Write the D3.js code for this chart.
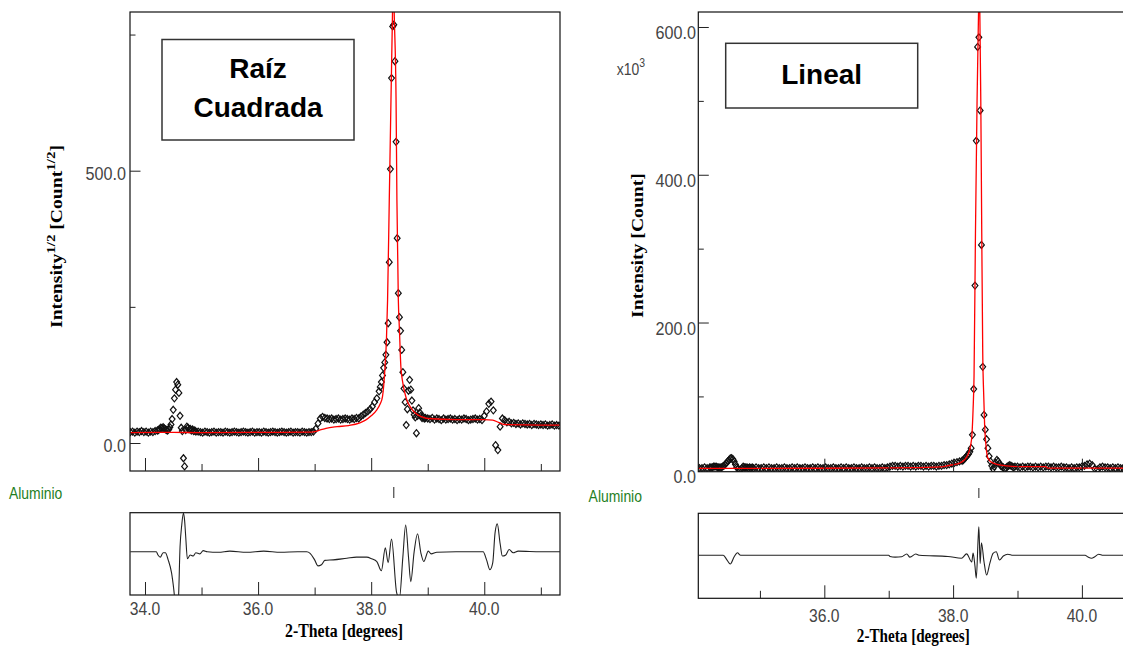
<!DOCTYPE html>
<html><head><meta charset="utf-8">
<script src="https://cdn.jsdelivr.net/npm/d3@7"></script>
<style>body{margin:0;background:#fff;} svg{display:block;}</style>
</head><body>
<svg id="chart" width="1123" height="646"></svg>
<script>
// ---------------- DATA ----------------
// 2-theta scan positions (degrees)
const twoTheta = [
 33.74,33.78,33.82,33.86,33.90,33.94,33.98,34.02,34.06,34.10,34.14,34.18,34.22,
 34.24,34.26,34.28,34.30,34.32,34.34,34.36,34.38,34.40,34.42,34.44,34.46,34.48,34.50,34.52,34.54,34.56,34.58,34.60,34.62,34.64,34.66,34.68,34.70,34.72,34.74,34.76,34.78,34.80,34.82,34.84,34.86,34.88,34.90,
 34.94,34.98,35.02,35.06,35.10,35.14,35.18,35.22,35.26,35.30,35.34,35.38,35.42,35.46,35.50,35.54,35.58,35.62,35.66,35.70,
 35.74,35.78,35.82,35.86,35.90,35.94,35.98,36.02,36.06,36.10,36.14,36.18,36.22,36.26,36.30,36.34,36.38,36.42,36.46,36.50,
 36.54,36.58,36.62,36.66,36.70,36.74,36.78,36.82,36.86,36.90,36.94,36.98,37.02,37.06,37.10,37.14,37.18,37.22,37.26,37.30,
 37.34,37.38,37.42,37.46,37.50,37.54,37.58,37.62,37.66,37.70,37.74,37.78,37.82,37.86,37.90,37.94,37.98,38.02,38.06,38.10,38.14,
 38.16,38.18,38.20,38.22,38.24,38.26,38.28,38.30,38.32,38.34,38.36,38.38,38.40,38.42,38.44,38.46,38.48,38.50,38.52,38.54,
 38.56,38.58,38.60,38.62,38.64,38.66,38.68,38.70,38.72,38.74,38.76,38.78,38.80,38.82,38.84,38.86,38.88,38.90,38.92,38.94,38.96,
 39.00,39.04,39.08,39.12,39.16,39.20,39.24,39.28,39.32,39.36,39.40,39.44,39.48,39.52,39.56,39.60,39.64,39.68,39.72,39.76,
 39.80,39.84,39.88,39.92,39.96,40.00,40.04,40.08,40.12,40.16,40.20,40.24,40.28,40.32,40.36,40.40,40.44,40.48,40.52,40.56,
 40.60,40.64,40.68,40.72,40.76,40.80,40.84,40.88,40.92,40.96,41.00,41.04,41.08,41.12,41.16,41.20,41.24,41.28,41.32
];
// observed, square-root scale [Count^1/2]
const sqrtObserved = [
 20,21,19,21,20,22,20,21,19,21,20,22,23,
 24,26,28,27,29,27,25,24,23,25,29,34,44,61,82,98,112,107,92,50,28,22,-28,-43,24,30,28,25,26,23,25,22,23,21,
 21,20,19,21,20,19,20,21,19,20, 20,19,21,20,19,20,21,20,19,20, 21,20,19,20,21,19,20,20,19,21,
 20,19,20,21,20,19,20,21,20,19, 20,21,19,20,20,19,21,20,19,20, 20,21,
 26,36,45,48,46,45,44,45,43,44, 45,43,44,45,44,43,45,44,46,45, 49,52,55,58,62,67,75,82,95,
 103,112,124,138,148,162,185,220,332,503, 670,765,768,701,553,376,275,231,206,171,
 130,100,75,33,62,96,116,98,78,60, 52,47,18,50,64,56,50,46,48,45, 46,
 45,44,46,43,45,44,42,45,43,44, 45,43,44,42,44,43,45,44,42,43, 44,45,43,44,42,50,
 58,72,76,60,-4,-13,30,45,42,38, 39,36,37,35,36,34,36,35,34,35, 33,35,34,33,34,33,34,32,33,34, 32,33,32
];
// observed, linear scale [x10^3 Count]
const linearObservedK = [
 3,4,3,3,4,3,3,4,3,3,4,3,4,
 4,4,5,5,5,4,4,4,4,5,6,8,10,12,14,16,16.5,15,12,8,4,2,0.5,0.3,3,5,4,4,4,3,4,3,4,3,
 4,3,3,4,3,4,3,3,4,3, 3,4,3,3,4,3,4,3,3,4, 3,3,4,3,4,3,3,4,3,3,
 4,3,3,4,3,4,3,3,4,3, 3,4,3,3,4,3,4,3,3,4, 3,4,
 5,6,6,5,6,5,6,6,5,6, 5,6,6,5,6,5,6,6,5,6, 6,7,7,8,9,10,11,12,13,
 14,16,18,20,22,25,30,48,110,250, 446,573,586,487,305,140,75,55,42,30,
 19,12,6,2,5,10,14,12,9,6, 5,4,1.5,3,5,6,7,6,5,4, 5,
 5,4,5,4,5,5,4,5,4,5, 4,5,5,4,5,4,4,5,4,4, 3,4,3,4,4,5,
 6,8,9,7,2,1,4,5,4,4, 3,4,3,4,3,3,4,3,4,3, 3,4,3,3,4,3,3,4,3,3, 4,3,3
];
// calculated profile, square-root scale
const sqrtCalcTheta = [33.74,34.50,35.00,36.00,36.90,37.00,37.10,37.20,37.40,37.60,37.80,37.90,38.00,38.10,38.16,38.20,38.245,38.27,38.29,38.32,38.35,38.375,38.39,38.41,38.44,38.455,38.48,38.50,38.525,38.56,38.60,38.63,38.70,38.78,38.90,39.00,39.50,40.00,40.15,40.25,40.35,41.00,41.34];
const sqrtCalc = [19,19.5,19,19.5,20,21,24,27,30,32,37,42,50,61,72,85,140,190,263,446,630,777,860,777,630,446,263,207,140,110,90,79,65,55,48,45,43,43,42,38,34,33,33];
// calculated profile, linear scale (x10^3)
const linearCalcTheta = [34.00,35.00,36.00,37.00,37.40,37.80,37.90,38.00,38.10,38.16,38.23,38.285,38.31,38.325,38.347,38.372,38.395,38.405,38.415,38.43,38.445,38.46,38.476,38.49,38.507,38.54,38.62,38.83,39.00,39.44,39.47,40.00,40.75];
const linearCalcK = [2.7,2.7,2.8,3.2,3.6,4.5,6,7.5,9.7,13,21,41,82,127,320,500,620,680,620,500,320,160,100,60,37,16.5,9.7,6,5,5,3,3,3];
// difference curves
const sqrtDiffTheta = [33.74,34.20,34.23,34.27,34.32,34.36,34.41,34.47,34.51,34.53,34.57,34.59,34.62,34.65,34.68,34.70,34.72,34.75,34.80,34.85,34.90,34.97,35.03,35.10,35.30,35.50,35.80,36.10,36.40,36.70,36.86,36.92,37.00,37.06,37.12,37.18,37.33,37.57,37.74,37.92,38.01,38.10,38.18,38.25,38.30,38.36,38.45,38.50,38.56,38.61,38.66,38.70,38.76,38.82,38.88,38.93,39.01,39.06,39.16,39.50,39.80,39.98,40.04,40.10,40.15,40.19,40.23,40.28,40.32,40.38,40.44,40.51,40.60,41.00,41.34];
const sqrtDiff = [0,0,-6,-10,-2,-2,-15,-39,-70,-89,-98,-89,9,49,71,58,28,-13,-6,-8,-2,-4,2,0,-1,1,-1,1,-1,0,0,-3,-15,-26,-24,-16,-15,-12,-10,-10,-13,-18,-35,7,-20,23,-75,-85,-10,49,-10,-55,0,33,-3,-18,1,-4,-1,0,0,0,-15,-33,-20,34,51,15,-8,-6,4,-2,1,0,0];
const linearDiffTheta = [34.04,34.43,34.49,34.54,34.60,34.65,34.70,37.00,37.02,37.10,37.20,37.28,37.33,37.42,37.48,37.92,38.13,38.21,38.29,38.31,38.34,38.36,38.39,38.40,38.42,38.44,38.48,38.52,38.57,38.62,38.67,38.72,38.78,38.85,38.93,40.05,40.09,40.15,40.20,40.26,40.33,40.75];
const linearDiffK = [0,0,-6.4,-11.8,-2,3.5,0,0,-1.5,-2.5,-2,1.8,-2.5,1.8,0,-1.5,-4,2,-9,3,-15,-31,25,38.7,-11,17,-8.7,-26.6,-11,2.7,4.9,-6.4,-1,1.5,0,0,-2,-4,-2,1.5,0,0];
// phase reflections
const phaseName = "Aluminio";
const phaseReflections = [38.40];
// ticks
const xMajorTicks = [34, 36, 38, 40];
const xMinorTicks = [35, 37, 39, 41];
const sqrtYMajor = [0, 500], sqrtYMinor = [250, 750];
const linearYMajor = [0, 200, 400, 600], linearYMinor = [100, 300, 500];
// texts
const sqrtBoxLines = ["Raíz", "Cuadrada"];
const linearBoxLines = ["Lineal"];
const xTitle = "2-Theta [degrees]";
const linearYTitle = "Intensity [Count]";
const linearMultiplier = ["x10", "3"];

// ---------------- LAYOUT ----------------
const svg = d3.select("#chart");
const SANS = "'Liberation Sans', Arial, sans-serif";
const SERIF = "'Liberation Serif', 'Times New Roman', serif";
const defs = svg.append("defs");

const panels = [
  { id: "sqrt", obs: sqrtObserved, calcT: sqrtCalcTheta, calc: sqrtCalc, diffT: sqrtDiffTheta, diff: sqrtDiff,
    yMajor: sqrtYMajor, yMinor: sqrtYMinor, box: sqrtBoxLines,
    L: 130, R: 560, top: 12, bottom: 471, dTop: 512.7, dBottom: 595,
    xDom: [33.735, 41.339], yDom: [-51.4, 791.4], dDom: [-79.5, 71.6],
    yLabX: 126, yLabDy: 9, xLabBase: 615, xTitleX: 344, xTitleBase: 636.5, xTitleW: 118,
    alumX: 9, alumBase: 499, phaseY: [487, 498],
    boxRect: [162, 39.5, 192, 100.5], boxBase: [78.3, 116.7],
    yTitleX: 61.7, yTitleY: 236.5, yTitleW: 183 },
  { id: "lin", obs: linearObservedK, calcT: linearCalcTheta, calc: linearCalcK, diffT: linearDiffTheta, diff: linearDiffK,
    yMajor: linearYMajor, yMinor: linearYMinor, box: linearBoxLines,
    L: 698.3, R: 1128, top: 12, bottom: 471.7, dTop: 513.3, dBottom: 598.3,
    xDom: [34.043, 40.716], yDom: [-1.9, 620.3], dDom: [-58.1, 56.8],
    yLabX: 696, yLabDy: 12.3, xLabBase: 622, xTitleX: 913.3, xTitleBase: 642, xTitleW: 113,
    alumX: 588.6, alumBase: 502, phaseY: [488, 498],
    boxRect: [725.7, 43.3, 192, 64.7], boxBase: [83.7],
    yTitleX: 643.3, yTitleY: 245.5, yTitleW: 145 }
];

function condensed(parent, x, y, str, size, sx, anchor, fill) {
  return parent.append("g").attr("transform", `translate(${x},${y}) scale(${sx},1)`)
    .append("text").attr("text-anchor", anchor).attr("font-family", SANS)
    .attr("font-size", size).attr("fill", fill).text(str);
}

const diamond = "M0,-3.5L2.9,0L0,3.5L-2.9,0Z";
const fmt = d3.format(".1f");

panels.forEach(p => {
  const x = d3.scaleLinear().domain(p.xDom).range([p.L, p.R]);
  const y = d3.scaleLinear().domain(p.yDom).range([p.bottom, p.top]);
  const yd = d3.scaleLinear().domain(p.dDom).range([p.dBottom, p.dTop]);
  const g = svg.append("g");

  defs.append("clipPath").attr("id", p.id + "-mc").append("rect")
    .attr("x", p.L).attr("y", p.top).attr("width", p.R - p.L).attr("height", p.bottom - p.top);
  defs.append("clipPath").attr("id", p.id + "-dc").append("rect")
    .attr("x", p.L).attr("y", p.dTop).attr("width", p.R - p.L).attr("height", p.dBottom - p.dTop);

  // annotation box
  const br = p.boxRect;
  g.append("rect").attr("x", br[0]).attr("y", br[1]).attr("width", br[2]).attr("height", br[3])
    .attr("fill", "#fff").attr("stroke", "#333").attr("stroke-width", 1.5);
  p.box.forEach((line, i) => {
    g.append("text").attr("x", br[0] + br[2] / 2).attr("y", p.boxBase[i]).attr("text-anchor", "middle")
      .attr("font-family", SANS).attr("font-weight", "bold").attr("font-size", 28).attr("fill", "#000").text(line);
  });

  // observed points
  const pts = twoTheta.map((t, i) => ({ t, v: p.obs[i] })).filter(d => d.v !== undefined);
  g.append("g").attr("clip-path", `url(#${p.id}-mc)`)
    .selectAll("path").data(pts).join("path")
    .attr("d", diamond).attr("transform", d => `translate(${x(d.t)},${y(d.v)})`)
    .attr("fill", "none").attr("stroke", "#111").attr("stroke-width", 1.2);

  // calculated line
  const calcData = p.calcT.map((t, i) => [t, p.calc[i]]);
  g.append("path").attr("clip-path", `url(#${p.id}-mc)`)
    .attr("d", d3.line().x(d => x(d[0])).y(d => y(d[1])).curve(d3.curveMonotoneX)(calcData))
    .attr("fill", "none").attr("stroke", "#ff0000").attr("stroke-width", 1.3);

  // frames
  g.append("rect").attr("x", p.L).attr("y", p.top).attr("width", p.R - p.L).attr("height", p.bottom - p.top)
    .attr("fill", "none").attr("stroke", "#111").attr("stroke-width", 1.2);
  g.append("rect").attr("x", p.L).attr("y", p.dTop).attr("width", p.R - p.L).attr("height", p.dBottom - p.dTop)
    .attr("fill", "none").attr("stroke", "#111").attr("stroke-width", 1.2);

  const inDom = v => v >= p.xDom[0] && v <= p.xDom[1];
  const major = xMajorTicks.filter(inDom), minor = xMinorTicks.filter(inDom);

  // x ticks (inward) on main and difference plots
  [[p.bottom, 13, 7], [p.dBottom, 13, 7.5]].forEach(([yy, lMaj, lMin]) => {
    const a1 = g.append("g").attr("transform", `translate(0,${yy})`)
      .call(d3.axisTop(x).tickValues(major).tickSize(lMaj).tickFormat(""));
    const a2 = g.append("g").attr("transform", `translate(0,${yy})`)
      .call(d3.axisTop(x).tickValues(minor).tickSize(lMin).tickFormat(""));
    [a1, a2].forEach(a => { a.select(".domain").remove(); a.selectAll("line").attr("stroke", "#222"); });
  });
  // x labels
  major.forEach(v => condensed(g, x(v), p.xLabBase, fmt(v), 18, 0.87, "middle", "#444"));

  // y ticks (inward)
  const ya = g.append("g").attr("transform", `translate(${p.L},0)`)
    .call(d3.axisRight(y).tickValues(p.yMajor).tickSize(10.5).tickFormat(""));
  const yb = g.append("g").attr("transform", `translate(${p.L},0)`)
    .call(d3.axisRight(y).tickValues(p.yMinor).tickSize(5.5).tickFormat(""));
  [ya, yb].forEach(a => { a.select(".domain").remove(); a.selectAll("line").attr("stroke", "#222"); });
  p.yMajor.forEach(v => condensed(g, p.yLabX, y(v) + p.yLabDy, fmt(v), 19, 0.85, "end", "#444"));

  // difference curve
  const diffData = p.diffT.map((t, i) => [t, p.diff[i]]);
  g.append("path").attr("clip-path", `url(#${p.id}-dc)`)
    .attr("d", d3.line().x(d => x(d[0])).y(d => yd(d[1])).curve(d3.curveMonotoneX)(diffData))
    .attr("fill", "none").attr("stroke", "#222").attr("stroke-width", 1.1);

  // phase row
  condensed(g, p.alumX, p.alumBase, phaseName, 16, 0.87, "start", "#1f7f1f");
  g.selectAll(".ph").data(phaseReflections.filter(inDom)).join("line")
    .attr("x1", d => x(d)).attr("x2", d => x(d)).attr("y1", p.phaseY[0]).attr("y2", p.phaseY[1])
    .attr("stroke", "#222").attr("stroke-width", 1);

  // x title
  g.append("text").attr("x", p.xTitleX).attr("y", p.xTitleBase).attr("text-anchor", "middle")
    .attr("font-family", SERIF).attr("font-weight", "bold").attr("font-size", 18).attr("fill", "#000")
    .attr("textLength", p.xTitleW).attr("lengthAdjust", "spacingAndGlyphs").text(xTitle);

  // y title
  const outer = g.append("g").attr("transform", `translate(${p.yTitleX},${p.yTitleY}) rotate(-90)`);
  const inner = outer.append("g");
  const tt = inner.append("text").attr("text-anchor", "middle").attr("font-family", SERIF)
    .attr("font-weight", "bold").attr("font-size", 17).attr("fill", "#000");
  if (p.id === "sqrt") {
    tt.append("tspan").text("Intensity");
    tt.append("tspan").attr("dy", -7).attr("font-size", 13).text("1/2");
    tt.append("tspan").attr("dy", 7).text(" [Count");
    tt.append("tspan").attr("dy", -7).attr("font-size", 13).text("1/2");
    tt.append("tspan").attr("dy", 7).text("]");
  } else {
    tt.text(linearYTitle);
  }
  const w = tt.node().getComputedTextLength();
  inner.attr("transform", `scale(${p.yTitleW / w},1)`);
});

// multiplier label on linear panel
const mt = svg.append("g").attr("transform", "translate(616.7,75) scale(0.87,1)")
  .append("text").attr("font-family", SANS).attr("font-size", 16).attr("fill", "#444");
mt.append("tspan").text(linearMultiplier[0]);
mt.append("tspan").attr("dy", -8).attr("font-size", 12).text(linearMultiplier[1]);
</script>
</body></html>
